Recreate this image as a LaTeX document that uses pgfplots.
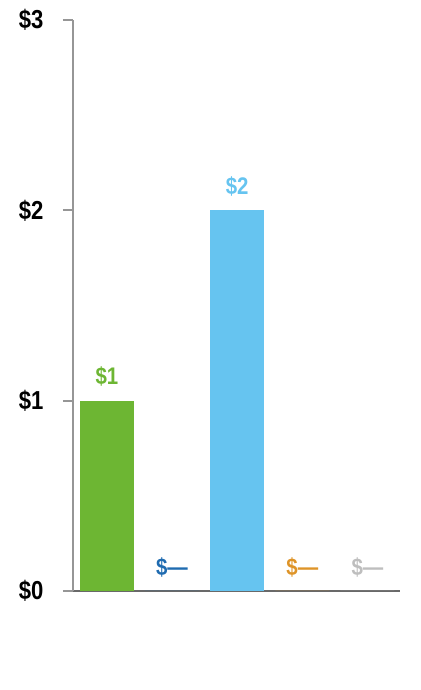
\documentclass[border=0pt]{standalone}
\usepackage{fontspec}
\setmainfont{Liberation Sans}[FakeStretch=0.85]
\usepackage{pgfplots}
\pgfplotsset{compat=1.18}
\definecolor{cgreen}{RGB}{109,182,51}
\definecolor{clight}{RGB}{102,196,240}
\definecolor{cblue}{RGB}{31,107,176}
\definecolor{corange}{RGB}{222,148,40}
\definecolor{cgray}{RGB}{190,190,190}
\definecolor{yline}{RGB}{150,150,150}
\definecolor{xline}{RGB}{105,105,105}
\begin{document}
\begin{tikzpicture}
\useasboundingbox (-73pt,-99pt) rectangle (347pt,591pt);
\begin{axis}[
    at={(0,0)}, anchor=south west,
    scale only axis,
    width=327pt, height=571pt,
    xmin=-0.52, xmax=4.5,
    ymin=0, ymax=3,
    axis x line=bottom, axis y line=left,
    axis line style={-},
    x axis line style={draw=xline, line width=2pt},
    y axis line style={draw=yline, line width=2pt},
    xtick=\empty,
    ytick={0,1,2,3},
    yticklabels={\$0,\$1,\$2,\$3},
    tick align=outside,
    major tick length=10pt,
    major tick style={draw=yline, line width=2pt},
    yticklabel style={font=\bfseries\fontsize{26}{26}\selectfont, text=black, xshift=-16pt},
    ybar, bar width=54pt,
    point meta=explicit symbolic,
    nodes near coords,
    nodes near coords style={font=\bfseries\fontsize{24}{24}\selectfont, anchor=center, yshift=24pt},
    clip=false,
]
\addplot[fill=cgreen, draw=none, bar shift=0pt, every node near coord/.append style={text=cgreen}] coordinates {(0,1) [\$1]};
\addplot[fill=cblue, draw=none, bar shift=0pt, every node near coord/.append style={text=cblue}] coordinates {(1,0) [\$—]};
\addplot[fill=clight, draw=none, bar shift=0pt, every node near coord/.append style={text=clight}] coordinates {(2,2) [\$2]};
\addplot[fill=corange, draw=none, bar shift=0pt, every node near coord/.append style={text=corange}] coordinates {(3,0) [\$—]};
\addplot[fill=cgray, draw=none, bar shift=0pt, every node near coord/.append style={text=cgray}] coordinates {(4,0) [\$—]};
\end{axis}
\end{tikzpicture}
\end{document}
